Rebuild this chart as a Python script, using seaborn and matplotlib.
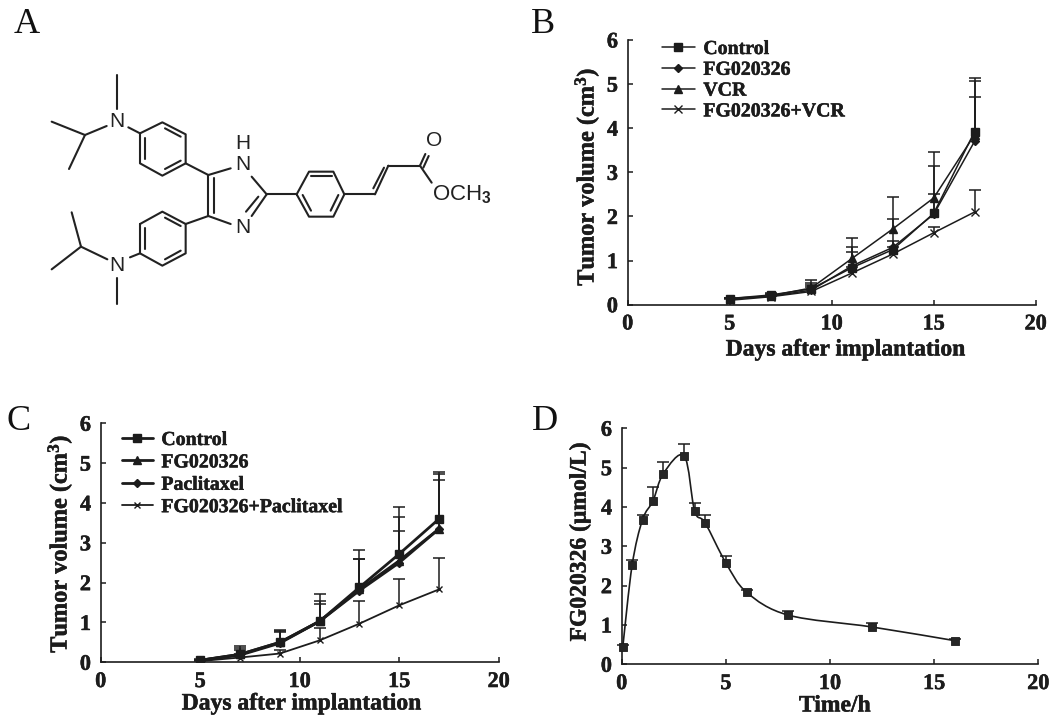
import numpy as np
import pandas as pd
import matplotlib
matplotlib.use("Agg")
import matplotlib.pyplot as plt
import matplotlib.patheffects as pe
from matplotlib.path import Path
from matplotlib.patches import PathPatch
import seaborn as sns

# panel B
days = [5, 7, 9, 11, 13, 15, 17]
b_labels = ["Control", "FG020326", "VCR", "FG020326+VCR"]
b_control = [0.14, 0.22, 0.36, 0.84, 1.25, 2.07, 3.92]
b_fg = [0.13, 0.19, 0.33, 0.88, 1.30, 2.05, 3.70]
b_vcr = [0.14, 0.20, 0.38, 1.05, 1.72, 2.42, 3.85]
b_combo = [0.10, 0.18, 0.30, 0.72, 1.15, 1.63, 2.10]
b_control_top = [0.16, 0.26, 0.50, 1.30, 1.95, 3.15, 5.08]
b_fg_top = [0.15, 0.22, 0.45, 1.20, 1.45, 2.50, 4.70]
b_vcr_top = [0.16, 0.24, 0.55, 1.52, 2.45, 3.45, 5.13]
b_combo_top = [0.12, 0.20, 0.40, 0.85, 1.30, 1.75, 2.60]

# panel C
c_labels = ["Control", "FG020326", "Paclitaxel", "FG020326+Paclitaxel"]
c_control = [0.05, 0.20, 0.50, 1.03, 1.88, 2.72, 3.60]
c_fg = [0.05, 0.20, 0.50, 1.03, 1.83, 2.55, 3.35]
c_pac = [0.05, 0.18, 0.48, 1.03, 1.80, 2.50, 3.35]
c_combo = [0.03, 0.12, 0.22, 0.55, 0.97, 1.43, 1.83]
c_control_top = [0.08, 0.42, 0.80, 1.72, 2.83, 3.90, 4.78]
c_fg_top = [0.07, 0.35, 0.78, 1.55, 2.60, 3.65, 4.72]
c_pac_top = [0.07, 0.30, 0.75, 1.47, 2.60, 3.30, 4.58]
c_combo_top = [0.04, 0.20, 0.30, 0.85, 1.55, 2.10, 2.63]

# panel D
hours = [0.05, 0.5, 1, 1.5, 2, 3, 3.5, 4, 5, 6, 8, 12, 16]
conc = [0.43, 2.52, 3.68, 4.15, 4.85, 5.30, 3.90, 3.60, 2.58, 1.83, 1.25, 0.95, 0.60]
conc_top = [0.50, 2.65, 3.80, 4.50, 5.15, 5.60, 4.10, 3.80, 2.75, 1.90, 1.35, 1.05, 0.65]

# panel A, structure drawing, in 3x pixel units
bonds = [
    [(352, 225), (352, 328)], [(320, 378), (255, 405)], [(255, 405), (155, 365)],
    [(255, 405), (207, 507)], [(385, 382), (420, 400)],
    [(420, 400), (487, 367), (557, 403), (557, 490), (487, 527), (420, 490), (420, 400)],
    [(435, 415), (435, 478)], [(495, 385), (542, 410)], [(495, 507), (542, 482)],
    [(557, 490), (625, 525)], [(625, 525), (692, 505)], [(755, 530), (800, 583)],
    [(800, 583), (755, 648)], [(775, 590), (738, 635)], [(692, 672), (625, 648)],
    [(625, 525), (625, 648)], [(642, 535), (642, 640)], [(557, 672), (625, 648)],
    [(420, 672), (487, 635), (557, 672), (557, 760), (487, 797), (420, 760), (420, 672)],
    [(435, 685), (435, 748)], [(495, 653), (542, 678)], [(495, 778), (542, 752)],
    [(420, 760), (390, 772)], [(352, 835), (352, 913)], [(322, 778), (243, 740)],
    [(243, 740), (215, 637)], [(243, 740), (155, 808)], [(800, 583), (890, 583)],
    [(890, 583), (927, 515), (1000, 515), (1033, 583), (1000, 650), (927, 650), (890, 583)],
    [(932, 529), (995, 529)], [(908, 585), (933, 632)], [(1015, 585), (992, 632)],
    [(1033, 583), (1125, 583)], [(1125, 583), (1165, 497)], [(1120, 565), (1152, 503)],
    [(1165, 497), (1260, 497)], [(1260, 497), (1276, 462)], [(1270, 503), (1286, 468)],
    [(1260, 497), (1295, 548)],
]
atoms = [("N", 352, 365), ("N", 352, 797), ("N", 728, 492), ("H", 728, 430),
         ("N", 728, 682), ("O", 1303, 423)]

W, H = 1050, 725
ink = "#1c1c1c"
fat = [pe.withStroke(linewidth=0.35, foreground=ink)]

sns.set_style("ticks")
plt.rcParams["font.family"] = ["Liberation Serif", "DejaVu Serif"]
plt.rcParams["font.weight"] = "bold"
plt.rcParams["mathtext.fontset"] = "custom"
plt.rcParams["mathtext.bf"] = "Liberation Serif:bold"
plt.rcParams["mathtext.rm"] = "Liberation Sans"
plt.rcParams["text.color"] = ink
plt.rcParams["axes.edgecolor"] = ink
plt.rcParams["axes.labelcolor"] = ink
plt.rcParams["xtick.color"] = ink
plt.rcParams["ytick.color"] = ink

fig = plt.figure(figsize=(W / 100, H / 100), dpi=100)


def make_axes(left, right, top, bottom, xlabel, ylabel, xlab_pos, ylab_pos, ylab_size=17.5):
    # pixel box of the plot area -> figure fractions
    ax = fig.add_axes([left / W, 1 - bottom / H, (right - left) / W, (bottom - top) / H])
    ax.set_xlim(0, 20)
    ax.set_ylim(0, 6)
    ax.set_xticks([0, 5, 10, 15, 20])
    ax.set_yticks(range(7))
    ax.tick_params(direction="in", length=3.5, width=1.1, pad=7, labelsize=16)
    for s in ["left", "bottom"]:
        ax.spines[s].set_linewidth(1.2)
    sns.despine(ax=ax)
    ax.patch.set_alpha(0)
    ax.set_xlabel(xlabel, fontsize=17, fontweight="bold")
    ax.set_ylabel(ylabel, fontsize=ylab_size, fontweight="bold")
    ax.xaxis.set_label_coords(xlab_pos[0] / W, 1 - xlab_pos[1] / H, transform=fig.transFigure)
    ax.yaxis.set_label_coords(ylab_pos[0] / W, 1 - ylab_pos[1] / H, transform=fig.transFigure)
    ax.xaxis.label.set_verticalalignment("center")
    ax.yaxis.label.set_verticalalignment("center")
    for t in ax.get_xticklabels() + ax.get_yticklabels() + [ax.xaxis.label, ax.yaxis.label]:
        t.set_path_effects(fat)
    return ax


def draw_errors(ax, x, means, tops, cap=8, lw=1.1):
    ax.vlines(x, means, tops, color=ink, lw=lw, zorder=2)
    sns.scatterplot(x=x, y=tops, marker="_", s=cap ** 2, color=ink, linewidth=lw,
                    ax=ax, legend=False, zorder=2, clip_on=False)


def draw_series(ax, x, means, tops, label, marker, ms, lw):
    draw_errors(ax, x, means, tops)
    sns.lineplot(x=x, y=means, color=ink, marker=marker, markersize=ms, linewidth=lw,
                 markeredgecolor=ink, markeredgewidth=1.0, label=label, ax=ax,
                 errorbar=None, zorder=3)


def smooth_path(x, y, k=1 / 6):
    # excel style smoothed connector through the measured points
    x, y = np.asarray(x, float), np.asarray(y, float)
    verts = [(x[0], y[0])]
    codes = [Path.MOVETO]
    for i in range(len(x) - 1):
        p0 = i - 1 if i > 0 else i
        p3 = i + 2 if i + 2 < len(x) else i + 1
        verts.append((x[i] + k * (x[i + 1] - x[p0]), y[i] + k * (y[i + 1] - y[p0])))
        verts.append((x[i + 1] - k * (x[p3] - x[i]), y[i + 1] - k * (y[p3] - y[i])))
        verts.append((x[i + 1], y[i + 1]))
        codes += [Path.CURVE4] * 3
    return Path(verts, codes)


# panel A
bg = fig.add_axes([0, 0, 1, 1])
bg.set_xlim(0, W * 3)
bg.set_ylim(H * 3, 0)
bg.axis("off")
for seg in bonds:
    pts = np.array(seg)
    bg.plot(pts[:, 0], pts[:, 1], color="#222222", lw=1.5, solid_capstyle="round")
for sym, ax_x, ax_y in atoms:
    bg.text(ax_x, ax_y, sym, ha="center", va="center", fontsize=15, fontweight="normal",
            family="Liberation Sans", color="#222222")
bg.text(1297, 585, r"OCH$_{\mathrm{3}}$", ha="left", va="center", fontsize=16,
        fontweight="normal", family="Liberation Sans", color="#222222")

for letter, lx, ly in [("A", 14, 33), ("B", 531, 33), ("C", 6, 430), ("D", 532, 430)]:
    bg.text(lx * 3, ly * 3, letter, fontsize=26, fontweight="normal", ha="left",
            va="baseline", color="#111111")

ylab = r"Tumor volume (cm$\mathbf{^{3}}$)"


def style_legend(ax, x, y, spacing, hl):
    leg = ax.legend(frameon=False, loc="upper left", bbox_to_anchor=(x / W, 1 - y / H),
                    bbox_transform=fig.transFigure, prop={"size": 14.3, "weight": "bold"},
                    borderpad=0, borderaxespad=0, handlelength=hl, handletextpad=0.42,
                    labelspacing=spacing)
    for t in leg.get_texts():
        t.set_path_effects(fat)


# panel B
ax_b = make_axes(627.7, 1035.7, 40, 304.7, "Days after implantation", ylab, (846, 350), (587, 177))
b_means = [b_control, b_fg, b_vcr, b_combo]
b_tops = [b_control_top, b_fg_top, b_vcr_top, b_combo_top]
b_marks = ["s", "D", "^", "x"]
b_sizes = [6, 4.5, 5.5, 6]
for m, t, lab, mk, ms in zip(b_means, b_tops, b_labels, b_marks, b_sizes):
    draw_series(ax_b, days, m, t, lab, mk, ms, 1.1)
style_legend(ax_b, 662, 39, 0.04, 1.66)

# panel C
ax_c = make_axes(100.7, 498.7, 423.3, 662.3, "Days after implantation", ylab, (302, 704), (60, 544))
c_means = [c_control, c_fg, c_pac, c_combo]
c_tops = [c_control_top, c_fg_top, c_pac_top, c_combo_top]
c_marks = ["s", "^", "D", "x"]
c_sizes = [6, 5.5, 4.5, 4]
c_widths = [2.0, 2.0, 2.0, 1.3]
for m, t, lab, mk, ms, lw in zip(c_means, c_tops, c_labels, c_marks, c_sizes, c_widths):
    draw_series(ax_c, days, m, t, lab, mk, ms, lw)
style_legend(ax_c, 122, 430, 0.12, 1.56)

# panel D
ax_d = make_axes(621.7, 1038.3, 428.3, 664.3, "Time/h", "FG020326 (\u03bcmol/L)", (835, 706), (580, 542), 17)
draw_errors(ax_d, hours, conc, conc_top)
ax_d.add_patch(PathPatch(smooth_path(hours, conc), fill=False, edgecolor=ink, lw=1.2, zorder=3))
sns.scatterplot(x=hours, y=conc, marker="s", s=28, color="#262626", edgecolor=ink,
                linewidth=0.6, ax=ax_d, legend=False, zorder=4, clip_on=False)

fig.savefig("out.png", dpi=100)
